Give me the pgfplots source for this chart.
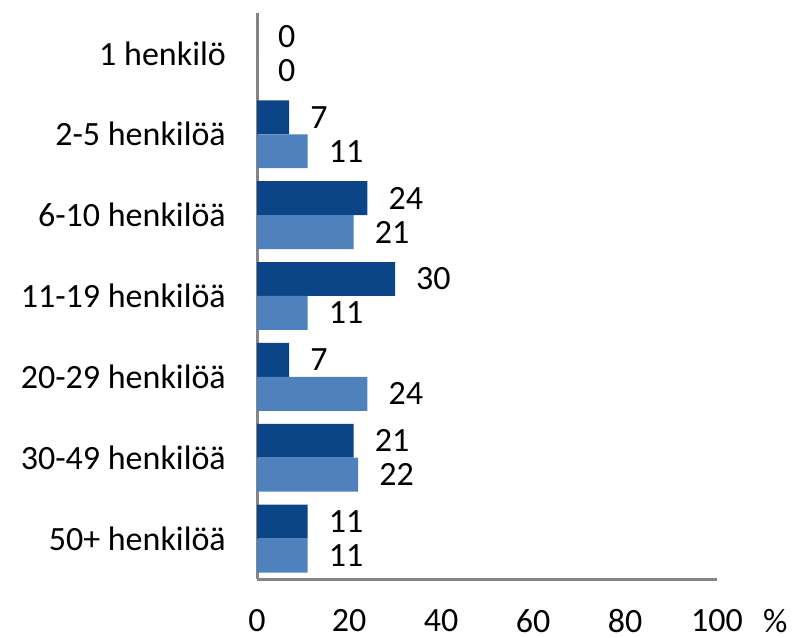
\documentclass[border=0pt]{standalone}
\usepackage{fontspec}
\setmainfont{Carlito}
\usepackage{pgfplots}
\pgfplotsset{compat=1.18}
\definecolor{darkbar}{RGB}{11,69,136}
\definecolor{lightbar}{RGB}{79,129,189}
\definecolor{axisgray}{RGB}{134,134,134}
\begin{document}
\fontsize{34}{40}\selectfont
\begin{tikzpicture}[x=1pt,y=1pt]
\useasboundingbox (0,0) rectangle (792,637);
\begin{axis}[
  at={(257pt,58pt)}, anchor=south west,
  scale only axis, width=460pt, height=566pt,
  xbar, xmin=0, xmax=100, ymin=-0.5, ymax=6.5,
  axis x line*=bottom, axis y line*=left,
  axis line style={draw=axisgray, line width=3pt},
  every outer x axis line/.append style={draw=axisgray, line width=3pt},
  every outer y axis line/.append style={draw=axisgray, line width=3pt},
  xtick={0,20,...,100}, ytick={0,...,6},
  yticklabels={50+ henkilöä, 30-49 henkilöä, 20-29 henkilöä, 11-19 henkilöä, 6-10 henkilöä, 2-5 henkilöä, 1 henkilö},
  major tick length=0pt,
  tick style={draw=none},
  /pgf/number format/assume math mode=true,
  tick label style={font=\fontsize{34}{40}\selectfont, inner sep=0pt},
  yticklabel style={anchor=east, xshift=-31pt},
  xticklabel style={anchor=north, yshift=-30pt},
  bar width=0.42,
  nodes near coords,
  every node near coord/.append style={font=\fontsize{34}{40}\selectfont, anchor=west, inner sep=0pt, xshift=21pt, black},
  clip=false,
  extra description/.code={\node[anchor=north west, inner sep=0pt, font=\fontsize{34}{40}\selectfont] at ([xshift=46pt,yshift=-30pt]rel axis cs:1,0) {\%};},
]
\addplot[fill=darkbar, draw=none, bar shift=0.21] coordinates {
  (0,6) (7,5) (24,4) (30,3) (7,2) (21,1) (11,0)
};
\addplot[fill=lightbar, draw=none, bar shift=-0.21] coordinates {
  (0,6) (11,5) (21,4) (11,3) (24,2) (22,1) (11,0)
};
\end{axis}
\end{tikzpicture}
\end{document}
